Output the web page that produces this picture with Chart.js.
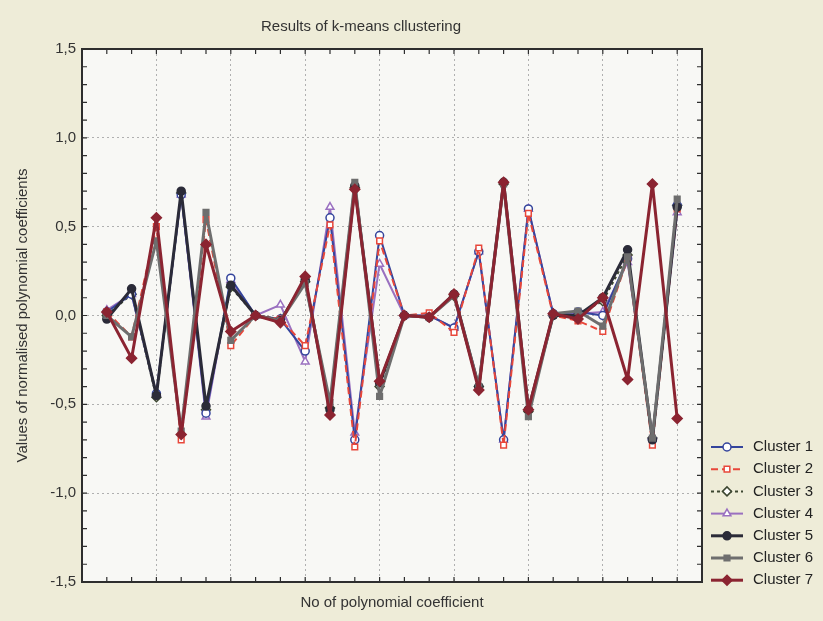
<!DOCTYPE html>
<html lang="en">
<head>
<meta charset="UTF-8">
<title>Results of k-means cllustering</title>
<script src="https://cdn.jsdelivr.net/npm/chart.js"></script>
<style>
  html, body { margin: 0; padding: 0; background: #eeecd8; }
</style>
</head>
<body>
<canvas id="myChart" width="823" height="621"></canvas>
<script>
// polynomial coefficient numbers (x)
const coeffNo = [1, 2, 3, 4, 5, 6, 7, 8, 9, 10, 11, 12, 13, 14, 15, 16, 17, 18, 19, 20, 21, 22, 23, 24];

const clusterNames = ['Cluster 1', 'Cluster 2', 'Cluster 3', 'Cluster 4', 'Cluster 5', 'Cluster 6', 'Cluster 7'];

// normalised coefficient values
const cluster1 = [0.02, 0.12, -0.44, 0.68, -0.55, 0.21, 0.00, -0.02, -0.20, 0.55, -0.70, 0.45, 0.00, 0.00, -0.07, 0.36, -0.70, 0.60, 0.01, 0.02, 0.00, 0.32, -0.70, 0.62];
const cluster2 = [0.02, -0.12, 0.50, -0.70, 0.54, -0.17, 0.00, -0.02, -0.17, 0.51, -0.74, 0.42, 0.00, 0.015, -0.095, 0.38, -0.73, 0.575, 0.00, -0.03, -0.09, 0.32, -0.73, 0.60];
const cluster3 = [0.00, 0.12, -0.46, 0.69, -0.53, 0.16, 0.00, -0.02, 0.19, -0.52, 0.72, -0.40, 0.00, -0.01, 0.11, -0.40, 0.74, -0.54, 0.01, 0.01, 0.08, 0.34, -0.69, 0.62];
const cluster4 = [0.03, 0.12, -0.44, 0.68, -0.57, 0.20, 0.00, 0.06, -0.26, 0.61, -0.66, 0.29, 0.00, 0.00, -0.07, 0.36, -0.70, 0.60, 0.01, 0.01, 0.02, 0.30, -0.68, 0.58];
const cluster5 = [-0.02, 0.15, -0.45, 0.70, -0.51, 0.17, 0.00, -0.03, 0.20, -0.53, 0.73, -0.38, 0.00, -0.01, 0.12, -0.40, 0.75, -0.53, 0.00, 0.00, 0.10, 0.37, -0.70, 0.61];
const cluster6 = [0.00, -0.12, 0.42, -0.65, 0.58, -0.14, 0.00, -0.03, 0.18, -0.49, 0.75, -0.455, 0.00, -0.01, 0.11, -0.40, 0.74, -0.57, 0.01, 0.025, -0.06, 0.33, -0.69, 0.655];
const cluster7 = [0.02, -0.24, 0.55, -0.67, 0.40, -0.09, 0.00, -0.04, 0.22, -0.56, 0.71, -0.37, 0.00, -0.01, 0.12, -0.42, 0.75, -0.53, 0.01, -0.02, 0.10, -0.36, 0.74, -0.58];

const yTicks = [-1.5, -1.0, -0.5, 0.0, 0.5, 1.0, 1.5];

const FONT = "'Liberation Sans', Arial, sans-serif";

// line style for each cluster
const styles = [
    { color: '#34449c', width: 2, dash: [], point: 'circle', radius: 4, fill: '#ffffff', order: 4 },
    { color: '#e8473a', width: 2, dash: [7, 4], point: 'rect', radius: 4, fill: '#ffffff', order: 3 },
    { color: '#3c4630', width: 2, dash: [3, 3], point: 'rectRot', radius: 4.5, fill: '#ffffff', order: 6 },
    { color: '#9a70c0', width: 2, dash: [], point: 'triangle', radius: 4.5, fill: '#ffffff', order: 5 },
    { color: '#2b2b38', width: 3, dash: [], point: 'circle', radius: 4, fill: '#2b2b38', order: 2 },
    { color: '#6e6e6e', width: 3, dash: [], point: 'rect', radius: 4, fill: '#6e6e6e', order: 1 },
    { color: '#8b2431', width: 3, dash: [], point: 'rectRot', radius: 5, fill: '#8b2431', order: 0 }
];

const series = [cluster1, cluster2, cluster3, cluster4, cluster5, cluster6, cluster7];

const datasets = series.map((vals, i) => ({
    label: clusterNames[i],
    data: coeffNo.map((n, k) => ({ x: n, y: vals[k] })),
    borderColor: styles[i].color,
    borderWidth: styles[i].width,
    borderDash: styles[i].dash,
    borderJoinStyle: 'round',
    pointStyle: styles[i].point,
    pointRadius: styles[i].radius,
    pointBackgroundColor: styles[i].fill,
    pointBorderColor: styles[i].color,
    pointBorderWidth: 1.5,
    tension: 0,
    fill: false,
    order: styles[i].order
}));

// paper background + white plot area
const paper = {
    id: 'paper',
    beforeDraw(chart) {
        const { ctx, chartArea: a } = chart;
        ctx.save();
        ctx.fillStyle = '#eeecd8';
        ctx.fillRect(0, 0, chart.width, chart.height);
        ctx.fillStyle = '#f8f8f5';
        ctx.fillRect(a.left, a.top, a.right - a.left, a.bottom - a.top);
        ctx.restore();
    }
};

// frame with inward tick marks, title and legend
const frame = {
    id: 'frame',
    afterDraw(chart) {
        const { ctx, chartArea: a, scales } = chart;
        ctx.save();
        ctx.strokeStyle = '#2e2e2e';
        ctx.lineWidth = 1.2;
        ctx.beginPath();
        for (let v = 1; v < 25; v++) {
            const px = scales.x.getPixelForValue(v);
            ctx.moveTo(px, a.top); ctx.lineTo(px, a.top + 5);
            ctx.moveTo(px, a.bottom); ctx.lineTo(px, a.bottom - 5);
        }
        for (let k = -14; k <= 14; k++) {
            const py = scales.y.getPixelForValue(k / 10);
            ctx.moveTo(a.left, py); ctx.lineTo(a.left + 5, py);
            ctx.moveTo(a.right, py); ctx.lineTo(a.right - 5, py);
        }
        ctx.stroke();
        ctx.lineWidth = 2;
        ctx.strokeRect(a.left, a.top, a.right - a.left, a.bottom - a.top);

        // title
        ctx.fillStyle = '#333333';
        ctx.font = '15px ' + FONT;
        ctx.textAlign = 'center';
        ctx.textBaseline = 'middle';
        ctx.fillText('Results of k-means cllustering', 361, 27);

        // legend
        chart.data.datasets.forEach((ds, i) => {
            const y = 447 + i * 22.2;
            ctx.strokeStyle = ds.borderColor;
            ctx.lineWidth = ds.borderWidth;
            ctx.setLineDash(ds.borderDash);
            ctx.beginPath();
            ctx.moveTo(711, y); ctx.lineTo(743, y);
            ctx.stroke();
            ctx.setLineDash([]);
            ctx.fillStyle = ds.pointBackgroundColor;
            ctx.lineWidth = 1.5;
            Chart.helpers.drawPoint(ctx, { pointStyle: ds.pointStyle, radius: ds.pointRadius, rotation: 0, borderWidth: 1.5 }, 727, y);
            ctx.fillStyle = '#222222';
            ctx.font = '15px ' + FONT;
            ctx.textAlign = 'left';
            ctx.fillText(ds.label, 753, y);
        });
        ctx.restore();
    }
};

const ctx = document.getElementById('myChart').getContext('2d');
const myChart = new Chart(ctx, {
    type: 'line',
    data: { datasets: datasets },
    options: {
        responsive: false,
        animation: false,
        layout: { padding: { top: 49, right: 121, bottom: 0, left: 0 } },
        scales: {
            x: {
                type: 'linear',
                min: 0,
                max: 25,
                ticks: { stepSize: 1, display: false },
                grid: {
                    drawTicks: false,
                    color: c => (c.tick && c.tick.value % 3 === 0 && c.tick.value > 0 && c.tick.value < 25) ? '#b0b0b0' : 'rgba(0,0,0,0)'
                },
                border: { display: false, dash: [2, 3] },
                title: {
                    display: true,
                    text: 'No of polynomial coefficient',
                    color: '#333333',
                    font: { family: FONT, size: 15 },
                    padding: { top: 0, bottom: 9 }
                },
                afterFit: s => { s.height = 39; }
            },
            y: {
                min: -1.5,
                max: 1.5,
                afterBuildTicks: s => { s.ticks = yTicks.map(v => ({ value: v })); },
                ticks: {
                    color: '#333333',
                    font: { family: FONT, size: 15 },
                    padding: 6,
                    callback: v => v.toFixed(1).replace('.', ',')
                },
                grid: {
                    drawTicks: false,
                    color: c => (c.tick && Math.abs(c.tick.value) < 1.4) ? '#b0b0b0' : 'rgba(0,0,0,0)'
                },
                border: { display: false, dash: [2, 3] },
                title: {
                    display: true,
                    text: 'Values of normalised polynomial coefficients',
                    color: '#333333',
                    font: { family: FONT, size: 15 },
                    padding: { top: 14, bottom: 0 }
                },
                afterFit: s => { s.width = 82; }
            }
        },
        plugins: {
            legend: { display: false },
            tooltip: { enabled: false }
        }
    },
    plugins: [paper, frame]
});
</script>
</body>
</html>
